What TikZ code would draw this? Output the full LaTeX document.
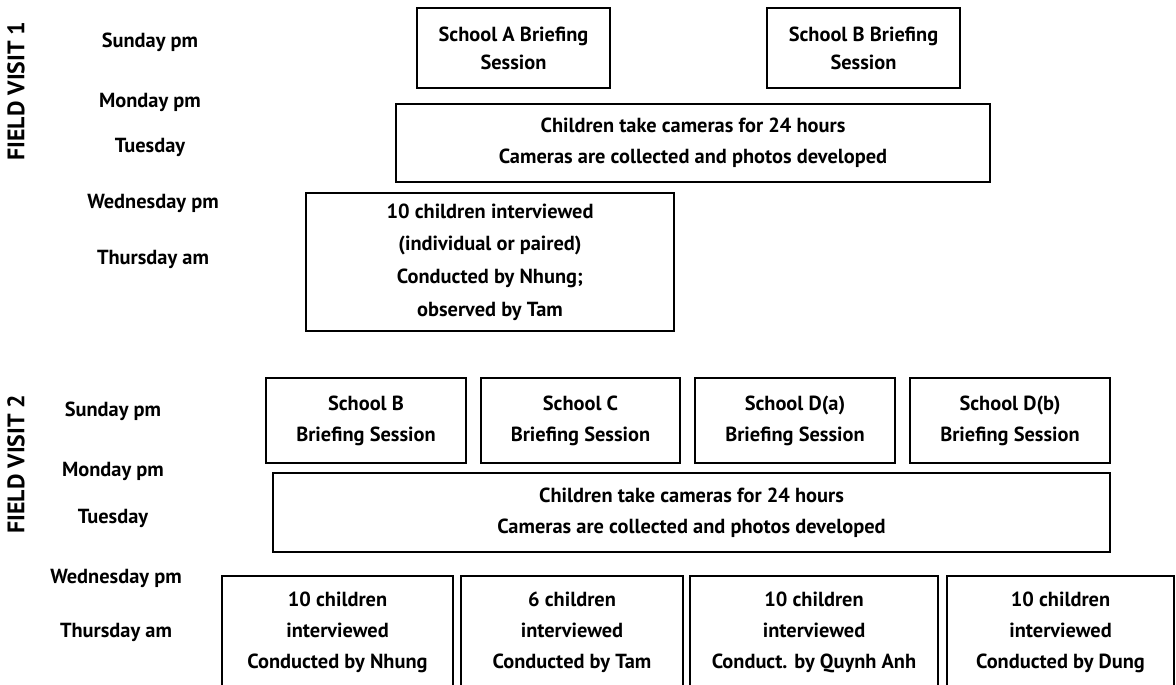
\documentclass[tikz,border=0pt]{standalone}
\usepackage{fontspec}
\setmainfont{PT Sans}
\usetikzlibrary{positioning}

\begin{document}
\begin{tikzpicture}[
        x=.025cm, y=-.025cm,
        every node/.style={font=\bfseries\fontsize{14.5}{22}\selectfont, align=center},
        box/.style={draw, line width=.9pt, inner sep=0pt},
        visit/.style={rotate=90, font=\bfseries\fontsize{17}{20}\selectfont}
    ]
  \useasboundingbox (0,0) rectangle (1176,684);

  % Field visit 1
  \node[visit] (fv1) at (16,91) {FIELD VISIT 1};
  \node (sun1) at (150,42) {Sunday pm};
  \node (mon1) at (150,102) {Monday pm};
  \node (tue1) at (150,147) {Tuesday};
  \node (wed1) at (153,203) {Wednesday pm};
  \node (thu1) at (153,259) {Thursday am};

  \node[box, minimum width=193*.025cm, minimum height=80*.025cm, font=\bfseries\fontsize{14.5}{20}\selectfont] (schA) at (513.5,48) {School A Briefing\\Session};
  \node[box, minimum width=193*.025cm, minimum height=80*.025cm, font=\bfseries\fontsize{14.5}{20}\selectfont] (schB1) at (863.5,48) {School B Briefing\\Session};
  \node[box, minimum width=594*.025cm, minimum height=78*.025cm] (cam1) at (693,143) {Children take cameras for 24 hours\\Cameras are collected and photos developed};
  \node[box, minimum width=368*.025cm, minimum height=138*.025cm, font=\bfseries\fontsize{14.5}{23.3}\selectfont] (int1) at (490,262) {10 children interviewed\\(individual or paired)\\Conducted by Nhung;\\observed by Tam};

  % Field visit 2
  \node[visit] (fv2) at (16,464) {FIELD VISIT 2};
  \node (sun2) at (113,411) {Sunday pm};
  \node (mon2) at (113,471) {Monday pm};
  \node (tue2) at (113,518) {Tuesday};
  \node (wed2) at (116,578) {Wednesday pm};
  \node (thu2) at (116,632) {Thursday am};

  \node[box, minimum width=200*.025cm, minimum height=85*.025cm] (schB2) at (366,420.5) {School B\\Briefing Session};
  \node[box, minimum width=199*.025cm, minimum height=85*.025cm] (schC) at (580.5,420.5) {School C\\Briefing Session};
  \node[box, minimum width=200*.025cm, minimum height=85*.025cm] (schDa) at (795,420.5) {School D(a)\\Briefing Session};
  \node[box, minimum width=200*.025cm, minimum height=85*.025cm] (schDb) at (1010,420.5) {School D(b)\\Briefing Session};
  \node[box, minimum width=837*.025cm, minimum height=79*.025cm] (cam2) at (691.5,512.5) {Children take cameras for 24 hours\\Cameras are collected and photos developed};

  \node[box, minimum width=231*.025cm, minimum height=112*.025cm] (int2a) at (337.5,632) {10 children\\interviewed\\Conducted by Nhung};
  \node[box, minimum width=222*.025cm, minimum height=112*.025cm] (int2b) at (572,632) {6 children\\interviewed\\Conducted by Tam};
  \node[box, minimum width=248*.025cm, minimum height=112*.025cm] (int2c) at (814,632) {10 children\\interviewed\\Conduct. by Quynh Anh};
  \node[box, minimum width=227*.025cm, minimum height=112*.025cm] (int2d) at (1060.5,632) {10 children\\interviewed\\Conducted by Dung};
\end{tikzpicture}
\end{document}
